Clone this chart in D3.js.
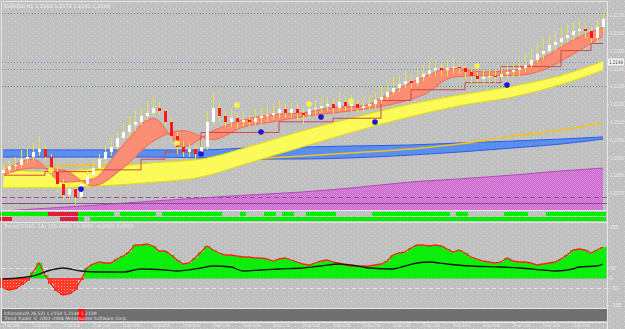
<!DOCTYPE html>
<html>
<head>
<meta charset="utf-8">
<script src="https://d3js.org/d3.v7.min.js"></script>
<style>
  body { margin: 0; background: #c0c0c0; }
  svg { display: block; font-family: "DejaVu Sans", sans-serif; }
</style>
</head>
<body>
<div id="chart"></div>
<script>
// ---- price bars (H1) ----
const opens = [1.2081,1.2083,1.2085,1.2086,1.2089,1.2090,1.2093,1.2095,1.2090,1.2082,
  1.2075,1.2069,1.2072,1.2068,1.2075,1.2080,1.2084,1.2089,1.2093,1.2096,
  1.2101,1.2104,1.2108,1.2110,1.2113,1.2115,1.2118,1.2116,1.2110,1.2102,
  1.2096,1.2093,1.2095,1.2092,1.2096,1.2110,1.2118,1.2113,1.2110,1.2112,
  1.2110,1.2111,1.2110,1.2112,1.2113,1.2114,1.2115,1.2117,1.2115,1.2117,
  1.2115,1.2114,1.2117,1.2118,1.2119,1.2120,1.2118,1.2121,1.2119,1.2120,
  1.2118,1.2119,1.2120,1.2122,1.2124,1.2127,1.2129,1.2131,1.2133,1.2132,
  1.2135,1.2137,1.2139,1.2140,1.2139,1.2140,1.2141,1.2140,1.2138,1.2136,
  1.2134,1.2135,1.2136,1.2135,1.2137,1.2138,1.2139,1.2140,1.2142,1.2145,
  1.2148,1.2150,1.2153,1.2155,1.2157,1.2159,1.2161,1.2162,1.2161,1.2157,
  1.2163];
const highs = [1.2086,1.2088,1.2090,1.2094,1.2095,1.2098,1.2102,1.2097,1.2092,1.2085,
  1.2078,1.2076,1.2074,1.2077,1.2083,1.2088,1.2092,1.2097,1.2101,1.2105,
  1.2109,1.2113,1.2116,1.2118,1.2121,1.2124,1.2121,1.2118,1.2112,1.2104,
  1.2099,1.2098,1.2097,1.2100,1.2116,1.2127,1.2121,1.2116,1.2117,1.2115,
  1.2116,1.2114,1.2117,1.2118,1.2119,1.2120,1.2122,1.2120,1.2121,1.2120,
  1.2118,1.2121,1.2123,1.2124,1.2124,1.2123,1.2126,1.2124,1.2125,1.2123,
  1.2124,1.2125,1.2127,1.2130,1.2132,1.2135,1.2137,1.2139,1.2137,1.2140,
  1.2142,1.2144,1.2145,1.2143,1.2145,1.2146,1.2144,1.2142,1.2140,1.2138,
  1.2139,1.2140,1.2139,1.2141,1.2142,1.2143,1.2145,1.2148,1.2151,1.2154,
  1.2157,1.2159,1.2161,1.2163,1.2165,1.2166,1.2167,1.2165,1.2163,1.2167,
  1.2172];
const lows = [1.2078,1.2081,1.2083,1.2084,1.2087,1.2088,1.2091,1.2088,1.2079,1.2071,
  1.2066,1.2066,1.2064,1.2066,1.2073,1.2078,1.2082,1.2087,1.2091,1.2094,
  1.2099,1.2102,1.2105,1.2108,1.2111,1.2113,1.2113,1.2107,1.2099,1.2092,
  1.2090,1.2090,1.2089,1.2090,1.2094,1.2108,1.2110,1.2107,1.2107,1.2106,
  1.2107,1.2106,1.2108,1.2109,1.2110,1.2111,1.2112,1.2112,1.2112,1.2111,
  1.2109,1.2112,1.2114,1.2115,1.2116,1.2115,1.2116,1.2116,1.2116,1.2115,
  1.2115,1.2116,1.2117,1.2120,1.2122,1.2125,1.2127,1.2129,1.2129,1.2130,
  1.2133,1.2135,1.2136,1.2136,1.2136,1.2137,1.2137,1.2134,1.2132,1.2131,
  1.2131,1.2132,1.2132,1.2133,1.2134,1.2135,1.2136,1.2138,1.2140,1.2143,
  1.2145,1.2148,1.2150,1.2152,1.2154,1.2156,1.2158,1.2157,1.2154,1.2155,
  1.2161];
const closes = [1.2083,1.2085,1.2086,1.2089,1.2090,1.2093,1.2095,1.2090,1.2082,1.2075,
  1.2069,1.2072,1.2068,1.2075,1.2080,1.2084,1.2089,1.2093,1.2096,1.2101,
  1.2104,1.2108,1.2110,1.2113,1.2115,1.2118,1.2116,1.2110,1.2102,1.2096,
  1.2093,1.2095,1.2092,1.2096,1.2110,1.2118,1.2113,1.2110,1.2112,1.2110,
  1.2111,1.2110,1.2112,1.2113,1.2114,1.2115,1.2117,1.2115,1.2117,1.2115,
  1.2114,1.2117,1.2118,1.2119,1.2120,1.2118,1.2121,1.2119,1.2120,1.2118,
  1.2119,1.2120,1.2122,1.2124,1.2127,1.2129,1.2131,1.2133,1.2132,1.2135,
  1.2137,1.2139,1.2140,1.2139,1.2140,1.2141,1.2140,1.2138,1.2136,1.2134,
  1.2135,1.2136,1.2135,1.2137,1.2138,1.2139,1.2140,1.2142,1.2145,1.2148,
  1.2150,1.2153,1.2155,1.2157,1.2159,1.2161,1.2162,1.2161,1.2157,1.2163,
  1.2168];

// ---- salmon ribbon (two moving averages), read every 5 bars ----
const ribbonIdx = [0,5,10,15,20,25,30,35,40,45,50,55,60,65,70,75,80,85,90,95,100];
const ribbonFast = [1.2082,1.2089,1.2076,1.2078,1.2097,1.2112,1.2096,1.2105,1.2111,1.2114,1.2115,
  1.2118,1.2119,1.2127,1.2135,1.2140,1.2138,1.2139,1.2146,1.2156,1.2163];
const ribbonSlow = [1.2080,1.2084,1.2083,1.2074,1.2084,1.2099,1.2105,1.2100,1.2107,1.2110,1.2113,
  1.2115,1.2117,1.2120,1.2125,1.2135,1.2136,1.2136,1.2139,1.2148,1.2158];

// ---- slow bands, read at these bars ----
const bandIdx = [0,8,16,25,33,41,50,58,68,76,85,93,100];
const yellowTop = [1.2083,1.2082,1.2084,1.2087,1.2089,1.2096,1.2105,1.2112,1.2120,1.2125,1.2130,1.2136,1.2144];
const yellowBottom = [1.2073,1.2073,1.2074,1.2076,1.2079,1.2087,1.2096,1.2104,1.2113,1.2119,1.2124,1.2131,1.2139];
const blueTop = [1.20942,1.20942,1.20942,1.20942,1.20942,1.20953,1.20958,1.20964,1.20970,1.20981,1.20992,1.21003,1.21015];
const blueBottom = [1.20902,1.20902,1.20902,1.20902,1.20897,1.20891,1.20891,1.20897,1.20913,1.20930,1.20953,1.20975,1.21003];
const goldLine = [1.20852,1.20852,1.20857,1.20863,1.20874,1.20891,1.20908,1.20925,1.20947,1.20975,1.21020,1.21054,1.21093];
const purpleTop = [1.20599,1.20616,1.20633,1.20655,1.20672,1.20689,1.20706,1.20728,1.20762,1.20779,1.20801,1.20824,1.20840];
const purpleBase = 1.20599;
const purpleLevels = [1.20678, 1.20644];

// ---- stepped base line ----
const kijunIdx = [0,7,15,23,27,33,46,55,63,68,77,83,93,98,100];
const kijunVal = [1.2080,1.2082,1.2083,1.2089,1.2093,1.2104,1.2110,1.2112,1.2122,1.2128,1.2132,1.2141,1.2150,1.2154,1.2154];

// ---- signal dots ----
const blueDots = [[13,1.20722],[33,1.20919],[43,1.21043],[53,1.21127],[62,1.21099],[84,1.21307]];
const yellowDots = [[8,1.20829],[29,1.20981],[39,1.21194],[51,1.21200],[58,1.21217],[79,1.21413]];

// ---- horizontal levels ----
const greenLevels = [1.21711, 1.21301];
const blueLevels = [1.21436, 1.21397];
const priceTicks = [1.2170,1.2160,1.2150,1.2140,1.2130,1.2120,1.2110,1.2100,1.2090,1.2080,1.2070];

// ---- trend strip segments [fromBar, toBar, state] ----
const stripTop = [[0,7,"up"],[8,12,"down"],[13,18,"up"],[20,25,"up"],[27,36,"up"],[40,40,"up"],[44,45,"up"],
  [47,48,"up"],[51,55,"up"],[62,73,"up"],[74,74,"up"],[76,77,"up"],[84,87,"up"],[91,97,"up"],[98,100,"up"]];
const stripBottom = [[0,1,"down"],[10,12,"down"],[13,13,"up"],[15,100,"up"]];

// ---- oscillator ----
const oscHist = [-50,-60,-55,-35,-15,30,75,15,-30,-65,
  -85,-80,-60,-10,50,70,80,75,75,95,
  110,130,165,165,170,160,135,135,115,90,
  70,75,100,130,160,140,125,115,115,110,
  105,105,100,100,95,85,95,100,90,80,
  70,65,75,85,90,80,75,65,60,60,
  60,60,65,70,85,115,125,130,150,165,
  165,160,165,160,145,130,140,125,105,95,
  85,80,75,80,100,85,80,80,75,65,
  70,75,80,95,115,140,145,140,125,140,
  155];
const signalIdx = [0,5,8,10,13,16,20,23,27,29,33,35,38,40,43,46,50,53,56,58,61,65,67,69,71,74,78,83,86,90,92,95,96,99,100];
const signalVal = [-5,10,40,50,35,30,30,45,40,35,50,60,55,35,40,45,50,60,70,65,50,45,60,75,80,70,60,55,50,40,35,45,55,60,70];
const oscLevels = [50, -50];
const oscTicks = [255, 50, 0, -50, -135];

// ---- time axis ----
const timeIdx = [0,5,10,15,20,25,30,35,40,45,50,55,60,65,70,75,80,85,90,95];
const timeLabels = ["21 Apr 2006","21 Apr 05:00","21 Apr 10:00","21 Apr 15:00","21 Apr 20:00",
  "24 Apr 01:00","24 Apr 06:00","24 Apr 11:00","24 Apr 16:00","24 Apr 21:00",
  "25 Apr 02:00","25 Apr 07:00","25 Apr 12:00","25 Apr 17:00","25 Apr 22:00",
  "26 Apr 03:00","26 Apr 08:00","26 Apr 13:00","26 Apr 18:00","26 Apr 23:00"];

// set the dimensions of the picture
const W = 625, H = 329;
const plotRight = 607;

const svg = d3.select("#chart")
  .append("svg")
  .attr("width", W)
  .attr("height", H);

const defs = svg.append("defs");

// speckled background like the terminal
const noise = defs.append("pattern").attr("id", "noise")
  .attr("patternUnits", "userSpaceOnUse").attr("width", 7).attr("height", 5);
noise.append("rect").attr("width", 7).attr("height", 5).attr("fill", "#c0c0c0");
noise.append("rect").attr("x", 1).attr("y", 1).attr("width", 1).attr("height", 1).attr("fill", "#d8d8d8");
noise.append("rect").attr("x", 4).attr("y", 3).attr("width", 1).attr("height", 1).attr("fill", "#d4d4d4");

const purpleFill = defs.append("pattern").attr("id", "purpleFill")
  .attr("patternUnits", "userSpaceOnUse").attr("width", 2).attr("height", 2);
purpleFill.append("rect").attr("width", 2).attr("height", 2).attr("fill", "#c866cc");
purpleFill.append("rect").attr("width", 1).attr("height", 1).attr("fill", "#dc8ade");
purpleFill.append("rect").attr("x", 1).attr("y", 1).attr("width", 1).attr("height", 1).attr("fill", "#dc8ade");

const redFill = defs.append("pattern").attr("id", "redFill")
  .attr("patternUnits", "userSpaceOnUse").attr("width", 3).attr("height", 3);
redFill.append("rect").attr("width", 3).attr("height", 3).attr("fill", "#ff3a2a");
redFill.append("rect").attr("x", 1).attr("y", 1).attr("width", 1).attr("height", 1).attr("fill", "#ff9a80");

defs.append("clipPath").attr("id", "mainClip")
  .append("rect").attr("x", 2).attr("y", 2).attr("width", plotRight - 2).attr("height", 208);

svg.append("rect").attr("width", W).attr("height", H).attr("fill", "url(#noise)");

// scales
const x = d3.scaleLinear().domain([0, 100]).range([3, 603]);
const y = d3.scaleLinear().domain([1.2170, 1.2070]).range([15, 193]);
const yOsc = d3.scaleLinear().domain([-140, 260]).range([306, 226]);

const main = svg.append("g").attr("clip-path", "url(#mainClip)");

// dotted levels
const levelLine = (g, vals, color, dash) => {
  g.selectAll(null).data(vals).join("line")
    .attr("x1", 2).attr("x2", plotRight)
    .attr("y1", d => Math.round(y(d)) + 0.5).attr("y2", d => Math.round(y(d)) + 0.5)
    .attr("stroke", color).attr("stroke-width", 1).attr("stroke-dasharray", dash);
};
levelLine(main, greenLevels, "#4e9a4e", "1,2");
levelLine(main, blueLevels, "#6e90d8", "1,2");

// purple area
const purple = d3.area()
  .x((d, i) => x(bandIdx[i]))
  .y0(y(purpleBase))
  .y1(d => y(d))
  .curve(d3.curveMonotoneX);
main.append("path").datum(purpleTop).attr("d", purple).attr("fill", "url(#purpleFill)");
main.append("path").datum(purpleTop)
  .attr("d", d3.line().x((d, i) => x(bandIdx[i])).y(d => y(d)).curve(d3.curveMonotoneX))
  .attr("fill", "none").attr("stroke", "#b448bc").attr("stroke-width", 1);
main.append("line").attr("x1", 2).attr("x2", plotRight)
  .attr("y1", Math.round(y(purpleLevels[0])) + 0.5).attr("y2", Math.round(y(purpleLevels[0])) + 0.5)
  .attr("stroke", "#9a4e9a").attr("stroke-width", 1.2).attr("stroke-dasharray", "5,3");
main.append("line").attr("x1", 2).attr("x2", plotRight)
  .attr("y1", Math.round(y(purpleLevels[1])) + 0.5).attr("y2", Math.round(y(purpleLevels[1])) + 0.5)
  .attr("stroke", "#8e4e8e").attr("stroke-width", 1);

// band helper
const drawBand = (top, bottom, fill, edge) => {
  const area = d3.area()
    .x((d, i) => x(bandIdx[i]))
    .y0((d, i) => y(bottom[i]))
    .y1(d => y(d))
    .curve(d3.curveMonotoneX);
  const line = d3.line().x((d, i) => x(bandIdx[i])).y(d => y(d)).curve(d3.curveMonotoneX);
  main.append("path").datum(top).attr("d", area).attr("fill", fill);
  main.append("path").datum(top).attr("d", line).attr("fill", "none").attr("stroke", edge).attr("stroke-width", 1);
  main.append("path").datum(bottom).attr("d", line).attr("fill", "none").attr("stroke", edge).attr("stroke-width", 1);
};

drawBand(blueTop, blueBottom, "#5c8ef0", "#2c5ee4");

// thin gold line
main.append("path").datum(goldLine)
  .attr("d", d3.line().x((d, i) => x(bandIdx[i])).y(d => y(d)).curve(d3.curveMonotoneX))
  .attr("fill", "none").attr("stroke", "#f2c21a").attr("stroke-width", 1.6);

drawBand(yellowTop, yellowBottom, "#fafa58", "#e6dc10");

// salmon ribbon
const ribbonArea = d3.area()
  .x((d, i) => x(ribbonIdx[i]))
  .y0((d, i) => y(ribbonSlow[i]))
  .y1(d => y(d))
  .curve(d3.curveMonotoneX);
const ribbonLine = d3.line().x((d, i) => x(ribbonIdx[i])).y(d => y(d)).curve(d3.curveMonotoneX);
main.append("path").datum(ribbonFast).attr("d", ribbonArea).attr("fill", "#fb8d74");
main.append("path").datum(ribbonFast).attr("d", ribbonLine).attr("fill", "none").attr("stroke", "#f26a50").attr("stroke-width", 1);
main.append("path").datum(ribbonSlow).attr("d", ribbonLine).attr("fill", "none").attr("stroke", "#f26a50").attr("stroke-width", 1);

// stepped base line
main.append("path").datum(kijunVal)
  .attr("d", d3.line().x((d, i) => x(kijunIdx[i])).y(d => y(d)).curve(d3.curveStepAfter))
  .attr("fill", "none").attr("stroke", "#d04848").attr("stroke-width", 1);

// candles
const bars = d3.range(closes.length);
const candles = main.append("g").attr("shape-rendering", "crispEdges");
candles.selectAll("line").data(bars).join("line")
  .attr("x1", i => x(i) + 0.5).attr("x2", i => x(i) + 0.5)
  .attr("y1", i => y(highs[i])).attr("y2", i => y(lows[i]))
  .attr("stroke", "#e4e44a").attr("stroke-width", 1);
candles.selectAll("rect").data(bars).join("rect")
  .attr("x", i => x(i) - 1)
  .attr("width", 3)
  .attr("y", i => y(Math.max(opens[i], closes[i])))
  .attr("height", i => Math.max(1.5, Math.abs(y(opens[i]) - y(closes[i]))))
  .attr("fill", i => closes[i] >= opens[i] ? "#ffffff" : "#ff1a1a");

// dots
main.selectAll(".ydot").data(yellowDots).join("circle")
  .attr("cx", d => x(d[0])).attr("cy", d => y(d[1])).attr("r", 2.8)
  .attr("fill", "#f4f44a");
main.selectAll(".bdot").data(blueDots).join("circle")
  .attr("cx", d => x(d[0])).attr("cy", d => y(d[1])).attr("r", 2.8)
  .attr("fill", "#1a1ad4");

// title
svg.append("text").attr("x", 4).attr("y", 8)
  .text("EURUSD,H1  1.2163 1.2172 1.2161 1.2168")
  .style("font-size", "5px").attr("fill", "#f0f0f0");

// price axis on the right
const yAxis = svg.append("g")
  .attr("transform", `translate(${plotRight},0)`)
  .call(d3.axisRight(y).tickValues(priceTicks).tickSize(2).tickFormat(d3.format(".4f")));
yAxis.select(".domain").remove();
yAxis.selectAll("line").attr("stroke", "#e8e8e8");
yAxis.selectAll("text").attr("fill", "#ececec").attr("x", 3)
  .style("font-size", "5px").attr("textLength", 14).attr("lengthAdjust", "spacingAndGlyphs");

// current level tag
const tagY = y(blueLevels[0]);
svg.append("rect").attr("x", 608).attr("y", tagY - 3.5).attr("width", 16).attr("height", 7).attr("fill", "#f4f4f4");
svg.append("text").attr("x", 609).attr("y", tagY + 2).text(d3.format(".4f")(blueLevels[0]))
  .style("font-size", "5px").attr("fill", "#404040").attr("textLength", 14).attr("lengthAdjust", "spacingAndGlyphs");

// trend strip
const strip = svg.append("g").attr("shape-rendering", "crispEdges");
const drawStrip = (segs, top) => {
  strip.selectAll(null).data(segs).join("rect")
    .attr("x", d => x(d[0]) - 3)
    .attr("width", d => x(d[1]) - x(d[0]) + 6)
    .attr("y", top).attr("height", 4)
    .attr("fill", d => d[2] === "up" ? "#00f000" : "#e01e3c");
};
drawStrip(stripTop, 212);
drawStrip(stripBottom, 217);

// oscillator
const osc = svg.append("g");
osc.selectAll(null).data(oscLevels).join("line")
  .attr("x1", 2).attr("x2", plotRight)
  .attr("y1", d => Math.round(yOsc(d)) + 0.5).attr("y2", d => Math.round(yOsc(d)) + 0.5)
  .attr("stroke", "#e4e4e4").attr("stroke-dasharray", "4,3");
osc.append("g").attr("shape-rendering", "crispEdges")
  .selectAll("rect").data(bars).join("rect")
  .attr("x", i => x(i) - 3)
  .attr("width", 6)
  .attr("y", i => Math.min(yOsc(0), yOsc(oscHist[i])))
  .attr("height", i => Math.abs(yOsc(0) - yOsc(oscHist[i])))
  .attr("fill", i => oscHist[i] >= 0 ? "#0af00a" : "url(#redFill)")
  .attr("stroke", i => oscHist[i] >= 0 ? "#20d820" : "none")
  .attr("stroke-width", 0.5);
osc.append("path").datum(oscHist)
  .attr("d", d3.line().x((d, i) => x(i)).y(d => yOsc(d)))
  .attr("fill", "none").attr("stroke", "#ff2418").attr("stroke-width", 1.3);
osc.append("path").datum(signalVal)
  .attr("d", d3.line().x((d, i) => x(signalIdx[i])).y(d => yOsc(d)).curve(d3.curveMonotoneX))
  .attr("fill", "none").attr("stroke", "#141414").attr("stroke-width", 1.3);
svg.append("text").attr("x", 4).attr("y", 228)
  .text("TrendCCI(50, 14) 155.0000 70.0000 -0.0000 0.0000")
  .style("font-size", "5px").attr("fill", "#ececec");

const oAxis = svg.append("g")
  .attr("transform", `translate(${plotRight},0)`)
  .call(d3.axisRight(yOsc).tickValues(oscTicks).tickSize(2));
oAxis.select(".domain").remove();
oAxis.selectAll("line").attr("stroke", "#e8e8e8");
oAxis.selectAll("text").attr("fill", "#ececec").attr("x", 3).style("font-size", "5px");

// bottom info panel
svg.append("rect").attr("x", 2).attr("y", 309).attr("width", plotRight - 2).attr("height", 12).attr("fill", "#707070");
svg.append("rect").attr("x", x(13) - 3).attr("y", 309).attr("width", 7).attr("height", 12).attr("fill", "#ff1010");
svg.append("text").attr("x", 4).attr("y", 314.5).text("Ichimoku(9,26,52) 1.2154 1.2144 1.2139")
  .style("font-size", "4.5px").attr("fill", "#e0e0e0");
svg.append("text").attr("x", 4).attr("y", 319.5).text("Trend Trader © 2001-2006 MetaQuotes Software Corp.")
  .style("font-size", "4.5px").attr("fill", "#e0e0e0");

// panel frames
const frame = svg.append("g").attr("stroke", "#e6e6e6").attr("stroke-width", 1).attr("shape-rendering", "crispEdges");
[1, 210, 222, 308, 322].forEach(v => {
  frame.append("line").attr("x1", 1).attr("x2", plotRight).attr("y1", v + 0.5).attr("y2", v + 0.5);
});
frame.append("line").attr("x1", 1.5).attr("x2", 1.5).attr("y1", 1).attr("y2", 322);
frame.append("line").attr("x1", plotRight + 0.5).attr("x2", plotRight + 0.5).attr("y1", 1).attr("y2", 329);

// time axis
svg.selectAll(".tlab").data(timeIdx).join("text")
  .attr("x", i => x(i))
  .attr("y", 327)
  .text((d, k) => timeLabels[k])
  .style("font-size", "4.5px").attr("fill", "#ececec")
  .attr("textLength", 17).attr("lengthAdjust", "spacingAndGlyphs");
svg.selectAll(".ttick").data(timeIdx).join("line")
  .attr("x1", i => x(i) + 0.5).attr("x2", i => x(i) + 0.5)
  .attr("y1", 322).attr("y2", 324)
  .attr("stroke", "#e6e6e6");
</script>
</body>
</html>
